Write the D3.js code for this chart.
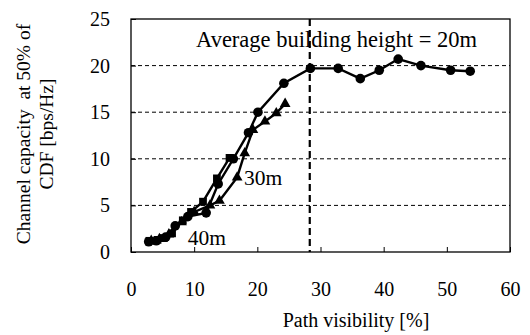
<!DOCTYPE html>
<html>
<head>
<meta charset="utf-8">
<script src="https://d3js.org/d3.v7.min.js"></script>
<style>
  body { margin: 0; background: #fff; }
  svg text { font-family: 'Liberation Serif', 'Times New Roman', Times, 'DejaVu Serif', serif !important; fill: #000; }
</style>
</head>
<body>
<div id="chart"></div>
<script>
// building height 20m (circles)
const vis20 = [2.8, 4.0, 5.5, 7.0, 9.0, 11.9, 13.8, 16.2, 18.6, 20.1, 24.2, 28.4, 32.8, 36.3, 39.3, 42.3, 45.9, 50.6, 53.7];
const cap20 = [1.1, 1.2, 1.6, 2.8, 3.8, 4.2, 7.3, 10.0, 12.8, 15.0, 18.1, 19.7, 19.7, 18.6, 19.5, 20.7, 20.0, 19.5, 19.4];
// 30m (triangles)
const vis30 = [3.2, 4.5, 6.0, 8.0, 10.0, 12.5, 14.0, 16.8, 18.0, 19.3, 21.2, 23.0, 24.4];
const cap30 = [1.2, 1.4, 1.9, 3.2, 4.3, 5.0, 5.5, 8.0, 10.6, 13.1, 14.0, 14.9, 15.9];
// 40m (squares)
const vis40 = [2.9, 4.2, 5.2, 6.5, 8.2, 9.5, 11.4, 13.6, 15.6];
const cap40 = [1.2, 1.3, 1.5, 2.0, 3.4, 4.3, 5.4, 7.9, 10.1];

const xTicks = [0, 10, 20, 30, 40, 50, 60];
const yTicks = [0, 5, 10, 15, 20, 25];
const gridY = [5, 10, 15, 20];
const avgVisibility = 28.3;

const W = 530, H = 335;
const margin = {top: 19, right: 20, bottom: 83, left: 131};
const width = W - margin.left - margin.right,
      height = H - margin.top - margin.bottom;
const serif = "'Liberation Serif', 'Times New Roman', serif";

const svg = d3.select("#chart").append("svg")
  .attr("width", W).attr("height", H)
  .attr("font-family", serif);
const g = svg.append("g")
  .attr("transform", `translate(${margin.left},${margin.top})`);

const x = d3.scaleLinear().domain([0, 60]).range([0, width]);
const y = d3.scaleLinear().domain([0, 25]).range([height, 0]);

// grid
g.selectAll(".grid").data(gridY).join("line")
  .attr("x1", 0).attr("x2", width)
  .attr("y1", d => y(d)).attr("y2", d => y(d))
  .attr("stroke", "#000").attr("stroke-width", 1)
  .attr("stroke-dasharray", "4,3");

// frame
g.append("rect").attr("width", width).attr("height", height)
  .attr("fill", "none").attr("stroke", "#000").attr("stroke-width", 1.3);

// axes (inward ticks)
g.append("g").attr("transform", `translate(0,${height})`)
  .call(d3.axisBottom(x).tickValues(xTicks).tickSize(-5).tickPadding(30))
  .attr("font-family", serif).attr("font-size", 20)
  .call(a => a.select(".domain").remove());
g.append("g")
  .call(d3.axisLeft(y).tickValues(yTicks).tickSize(-5).tickPadding(21))
  .attr("font-family", serif).attr("font-size", 20)
  .call(a => a.select(".domain").remove());

// vertical dashed marker
g.append("line")
  .attr("x1", x(avgVisibility)).attr("x2", x(avgVisibility))
  .attr("y1", 0).attr("y2", height)
  .attr("stroke", "#000").attr("stroke-width", 2.2)
  .attr("stroke-dasharray", "7,4");

function series(xs, ys) { return xs.map((v, i) => [v, ys[i]]); }
const line = d3.line().x(d => x(d[0])).y(d => y(d[1]));

const s40 = series(vis40, cap40), s30 = series(vis30, cap30), s20 = series(vis20, cap20);
[s40, s30, s20].forEach(s => {
  g.append("path").datum(s).attr("d", line)
    .attr("fill", "none").attr("stroke", "#000").attr("stroke-width", 2.4);
});

g.selectAll(".sq").data(s40).join("path")
  .attr("transform", d => `translate(${x(d[0])},${y(d[1])})`)
  .attr("d", d3.symbol(d3.symbolSquare, 60)).attr("fill", "#000");
g.selectAll(".tri").data(s30).join("path")
  .attr("transform", d => `translate(${x(d[0])},${y(d[1])})`)
  .attr("d", d3.symbol(d3.symbolTriangle, 50)).attr("fill", "#000");
g.selectAll(".dot").data(s20).join("circle")
  .attr("cx", d => x(d[0])).attr("cy", d => y(d[1])).attr("r", 4.8)
  .attr("fill", "#000");

// annotations
g.append("text").attr("x", x(10.3)).attr("y", 28)
  .attr("font-size", 22.5).text("Average building height = 20m");
g.append("text").attr("x", x(17.9)).attr("y", y(7.2))
  .attr("font-size", 21.5).text("30m");
g.append("text").attr("x", x(9)).attr("y", y(0.75))
  .attr("font-size", 21.5).text("40m");

// axis titles
svg.append("text").attr("x", 356).attr("y", 327)
  .attr("text-anchor", "middle").attr("font-size", 20)
  .text("Path visibility [%]");
const yt = svg.append("text").attr("transform", "translate(0,134) rotate(-90)")
  .attr("text-anchor", "middle").attr("font-size", 19.5)
  .style("white-space", "pre");
yt.append("tspan").attr("x", 0).attr("y", 30).text("Channel capacity  at 50% of");
yt.append("tspan").attr("x", 0).attr("y", 53).text("CDF [bps/Hz]");
</script>
</body>
</html>
